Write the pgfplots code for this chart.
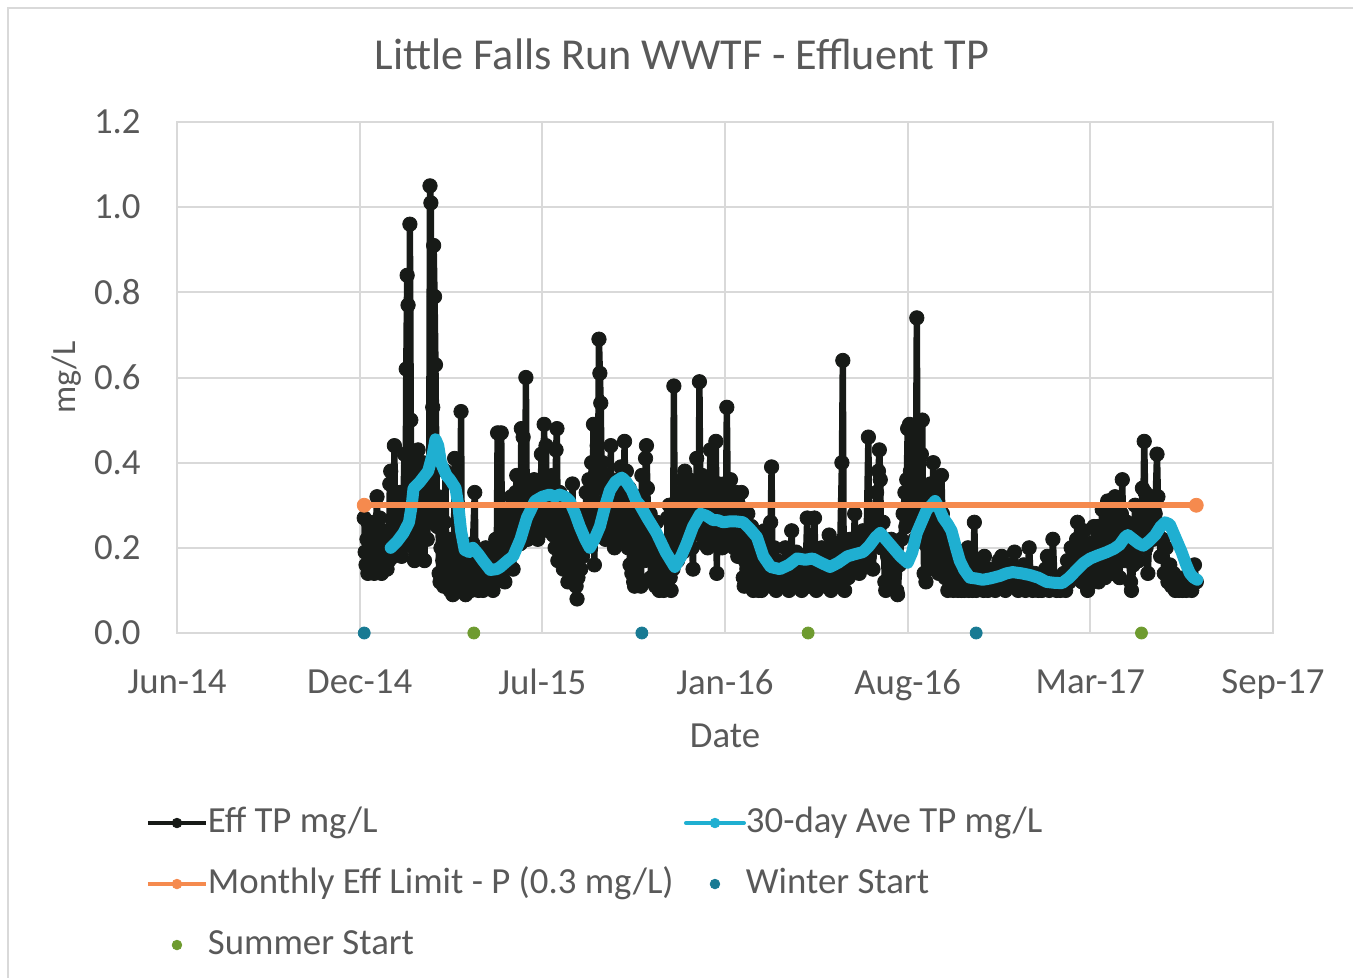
\documentclass[border=0pt]{standalone}
\usepackage{pgfplots}
\pgfplotsset{compat=1.18}
\usepackage{pgfplotstable}
\usepackage{fontspec}
\setmainfont{Carlito}
\definecolor{textgray}{HTML}{595959}
\definecolor{gridgray}{HTML}{D9D9D9}
\definecolor{effblack}{HTML}{171A17}
\definecolor{avecyan}{HTML}{1FAFD1}
\definecolor{limorange}{HTML}{F58A4E}
\definecolor{winterteal}{HTML}{187A93}
\definecolor{summergreen}{HTML}{6E9B2F}

% x = days since 10 Jun 2014
\pgfplotstableread{
x y
205 0.27
206 0.19
207 0.16
208 0.22
209 0.14
210 0.18
211 0.15
213 0.24
214 0.17
215 0.26
216 0.14
217 0.20
219 0.32
220 0.18
221 0.15
222 0.27
224 0.14
225 0.19
226 0.24
227 0.15
228 0.20
230 0.15
231 0.23
232 0.17
233 0.35
234 0.38
235 0.20
236 0.25
237 0.18
238 0.44
239 0.22
240 0.30
241 0.19
243 0.26
244 0.33
245 0.20
246 0.18
247 0.25
248 0.32
249 0.42
250 0.21
251 0.62
252 0.84
253 0.77
254 0.42
255 0.96
256 0.50
257 0.24
258 0.41
259 0.20
260 0.17
261 0.28
262 0.19
263 0.25
264 0.43
265 0.22
266 0.35
267 0.18
268 0.29
269 0.40
270 0.25
271 0.17
272 0.32
273 0.27
274 0.22
275 0.36
276 0.30
277 1.05
278 1.01
279 0.28
280 0.53
281 0.91
282 0.79
283 0.63
284 0.40
285 0.25
286 0.32
287 0.14
288 0.12
289 0.20
290 0.13
291 0.17
292 0.11
293 0.26
294 0.38
295 0.14
296 0.12
297 0.21
298 0.15
299 0.10
300 0.13
301 0.22
302 0.09
303 0.15
304 0.41
305 0.18
306 0.11
307 0.13
308 0.20
309 0.12
310 0.16
311 0.52
312 0.14
313 0.10
314 0.19
315 0.12
316 0.09
317 0.15
318 0.11
319 0.18
320 0.13
322 0.10
324 0.21
326 0.33
327 0.14
328 0.12
329 0.17
330 0.10
332 0.15
333 0.12
334 0.18
335 0.10
337 0.14
338 0.20
339 0.12
341 0.16
342 0.11
343 0.19
345 0.13
346 0.10
347 0.17
348 0.12
349 0.22
350 0.15
351 0.47
352 0.18
353 0.13
355 0.47
356 0.14
358 0.21
359 0.12
360 0.25
362 0.16
363 0.29
364 0.20
366 0.32
367 0.22
368 0.15
370 0.28
371 0.33
372 0.37
373 0.24
374 0.30
376 0.21
377 0.48
378 0.27
379 0.46
380 0.33
381 0.25
382 0.60
383 0.30
384 0.22
386 0.33
387 0.27
388 0.24
390 0.31
391 0.36
392 0.26
394 0.30
395 0.22
396 0.34
398 0.28
399 0.42
400 0.25
401 0.35
402 0.49
403 0.30
404 0.44
405 0.27
406 0.32
407 0.24
408 0.36
410 0.28
411 0.37
412 0.23
413 0.30
414 0.20
415 0.43
416 0.48
417 0.17
418 0.26
419 0.33
420 0.20
422 0.30
423 0.15
424 0.22
426 0.27
427 0.18
428 0.12
430 0.25
431 0.16
433 0.35
434 0.22
435 0.14
436 0.19
437 0.11
438 0.08
439 0.13
440 0.21
442 0.15
443 0.26
444 0.18
446 0.29
447 0.20
448 0.33
450 0.25
451 0.36
452 0.22
454 0.40
455 0.30
456 0.49
457 0.16
458 0.35
459 0.27
460 0.44
461 0.38
462 0.69
463 0.61
464 0.54
465 0.34
466 0.40
467 0.28
468 0.31
469 0.22
470 0.37
471 0.25
473 0.33
474 0.29
475 0.44
476 0.24
477 0.35
478 0.21
479 0.20
480 0.30
482 0.26
483 0.36
484 0.22
486 0.39
487 0.28
488 0.33
489 0.24
490 0.45
491 0.30
492 0.38
493 0.27
494 0.20
495 0.34
496 0.16
497 0.25
498 0.14
499 0.29
500 0.12
501 0.11
502 0.22
503 0.16
504 0.32
505 0.13
506 0.27
508 0.11
509 0.37
510 0.21
511 0.30
512 0.17
513 0.41
514 0.44
515 0.34
516 0.24
517 0.18
518 0.28
519 0.13
520 0.22
521 0.12
523 0.19
524 0.11
525 0.26
526 0.14
528 0.10
529 0.16
530 0.12
532 0.20
533 0.10
534 0.15
536 0.11
537 0.27
538 0.18
539 0.30
540 0.13
541 0.10
542 0.22
543 0.15
544 0.58
545 0.26
546 0.20
547 0.31
548 0.17
549 0.24
550 0.33
551 0.21
552 0.28
553 0.36
554 0.19
555 0.30
556 0.38
557 0.34
558 0.25
559 0.31
560 0.22
561 0.36
562 0.27
563 0.33
564 0.20
565 0.15
566 0.29
567 0.35
568 0.24
569 0.41
570 0.30
571 0.26
572 0.59
573 0.32
574 0.23
575 0.37
576 0.28
577 0.21
578 0.34
579 0.26
580 0.30
581 0.20
582 0.27
583 0.32
584 0.43
585 0.25
586 0.36
587 0.30
588 0.22
589 0.33
590 0.45
591 0.14
592 0.28
593 0.35
594 0.22
595 0.31
596 0.26
597 0.20
598 0.30
599 0.35
600 0.24
601 0.29
602 0.53
603 0.33
604 0.27
605 0.22
606 0.36
607 0.30
608 0.25
609 0.32
610 0.20
611 0.28
612 0.33
613 0.24
614 0.18
615 0.30
616 0.21
617 0.26
618 0.33
619 0.19
620 0.13
621 0.11
622 0.17
623 0.23
624 0.15
625 0.28
626 0.20
627 0.12
628 0.18
629 0.25
630 0.14
631 0.10
632 0.19
633 0.13
634 0.22
635 0.11
636 0.16
637 0.10
638 0.20
639 0.14
640 0.10
641 0.18
642 0.12
643 0.24
644 0.15
645 0.11
646 0.20
647 0.13
648 0.17
649 0.12
650 0.26
651 0.39
652 0.16
653 0.11
654 0.20
655 0.13
656 0.10
657 0.17
658 0.12
659 0.15
660 0.11
662 0.16
664 0.12
666 0.20
668 0.13
670 0.10
672 0.17
673 0.24
674 0.14
676 0.11
678 0.19
680 0.12
682 0.15
684 0.10
686 0.18
688 0.13
690 0.27
691 0.16
692 0.11
694 0.19
696 0.13
698 0.27
699 0.15
700 0.10
702 0.17
704 0.12
706 0.20
708 0.14
710 0.11
712 0.18
714 0.23
715 0.13
716 0.10
718 0.16
720 0.12
722 0.21
724 0.14
726 0.19
728 0.40
729 0.64
730 0.15
731 0.10
733 0.18
735 0.13
737 0.22
739 0.16
741 0.20
742 0.28
743 0.17
745 0.21
747 0.14
749 0.19
751 0.24
753 0.16
755 0.22
757 0.46
758 0.18
760 0.25
762 0.15
764 0.28
766 0.33
768 0.38
769 0.43
770 0.36
771 0.20
773 0.26
775 0.12
776 0.10
778 0.18
780 0.14
782 0.22
784 0.11
786 0.17
788 0.10
789 0.09
791 0.16
793 0.22
795 0.28
797 0.33
798 0.25
799 0.36
800 0.48
801 0.30
802 0.49
803 0.38
804 0.33
806 0.26
807 0.40
808 0.22
809 0.35
810 0.74
811 0.30
813 0.32
814 0.25
815 0.42
816 0.50
817 0.26
818 0.14
819 0.21
820 0.12
821 0.33
822 0.28
823 0.15
824 0.22
825 0.35
826 0.18
827 0.30
828 0.40
829 0.16
830 0.25
831 0.34
832 0.20
833 0.27
834 0.14
835 0.19
836 0.23
837 0.37
838 0.28
839 0.17
840 0.21
841 0.13
842 0.24
843 0.16
844 0.10
845 0.19
846 0.14
847 0.11
848 0.20
849 0.13
850 0.10
851 0.15
852 0.11
853 0.18
854 0.12
855 0.10
856 0.16
857 0.11
858 0.14
859 0.10
860 0.12
861 0.17
862 0.10
863 0.13
864 0.11
865 0.15
866 0.20
867 0.10
868 0.13
869 0.11
870 0.16
871 0.10
872 0.12
873 0.26
874 0.14
875 0.10
877 0.13
879 0.11
881 0.16
883 0.10
884 0.18
886 0.12
888 0.10
890 0.15
892 0.11
894 0.14
896 0.10
898 0.13
900 0.17
902 0.11
903 0.18
905 0.12
907 0.10
909 0.15
911 0.11
913 0.16
915 0.12
917 0.19
919 0.13
921 0.10
923 0.14
925 0.11
927 0.16
929 0.10
931 0.13
933 0.20
935 0.12
937 0.10
939 0.14
941 0.11
943 0.10
945 0.13
947 0.10
949 0.12
951 0.15
953 0.18
955 0.10
957 0.12
959 0.22
961 0.11
963 0.10
965 0.13
967 0.10
969 0.11
971 0.14
973 0.10
975 0.17
977 0.12
979 0.20
981 0.13
983 0.15
985 0.22
986 0.26
987 0.14
989 0.19
991 0.12
993 0.24
995 0.16
997 0.10
998 0.13
1000 0.21
1002 0.15
1004 0.25
1006 0.18
1008 0.25
1009 0.12
1011 0.20
1013 0.29
1014 0.16
1016 0.13
1017 0.22
1019 0.31
1020 0.18
1022 0.26
1024 0.14
1026 0.30
1027 0.32
1028 0.19
1030 0.23
1032 0.13
1034 0.28
1035 0.36
1036 0.22
1038 0.17
1040 0.26
1042 0.20
1044 0.12
1045 0.10
1047 0.16
1049 0.30
1051 0.24
1053 0.17
1055 0.22
1057 0.34
1058 0.30
1059 0.45
1060 0.33
1061 0.20
1063 0.14
1065 0.26
1067 0.32
1069 0.22
1071 0.28
1073 0.42
1074 0.32
1075 0.25
1077 0.18
1079 0.22
1081 0.14
1083 0.20
1085 0.12
1087 0.16
1089 0.11
1091 0.14
1093 0.10
1095 0.13
1097 0.10
1099 0.12
1101 0.10
1103 0.13
1105 0.10
1107 0.11
1109 0.13
1111 0.10
1113 0.12
1114 0.16
1116 0.12
}\effdata

\pgfplotstableread{
x y
234 0.20
241 0.215
248 0.235
254 0.26
257 0.30
259 0.34
266 0.355
275 0.38
280 0.42
283 0.455
286 0.44
289 0.40
295 0.37
299 0.36
305 0.34
308 0.30
311 0.24
315 0.195
320 0.19
324 0.20
330 0.185
335 0.17
343 0.148
350 0.15
354 0.155
362 0.17
368 0.18
376 0.22
383 0.27
392 0.31
400 0.32
408 0.325
414 0.32
419 0.325
425 0.32
430 0.31
436 0.28
441 0.25
447 0.22
452 0.20
457 0.22
463 0.25
469 0.30
474 0.335
480 0.355
487 0.365
492 0.355
498 0.335
503 0.31
507 0.30
515 0.27
525 0.235
535 0.19
545 0.155
552 0.18
558 0.21
565 0.25
573 0.28
580 0.275
587 0.265
592 0.265
598 0.26
605 0.262
612 0.262
620 0.26
627 0.245
635 0.225
642 0.18
650 0.155
660 0.15
670 0.16
679 0.175
688 0.172
696 0.175
705 0.165
715 0.155
724 0.165
734 0.18
742 0.185
751 0.19
758 0.205
765 0.225
770 0.235
776 0.22
784 0.20
792 0.18
800 0.165
805 0.19
810 0.235
816 0.265
821 0.29
826 0.30
830 0.31
834 0.295
839 0.27
844 0.255
848 0.24
853 0.20
857 0.17
862 0.148
868 0.13
875 0.128
882 0.125
890 0.128
901 0.134
908 0.14
915 0.143
925 0.14
934 0.136
943 0.13
952 0.12
960 0.118
969 0.117
977 0.13
985 0.148
993 0.165
1000 0.175
1008 0.182
1018 0.19
1026 0.198
1032 0.207
1038 0.225
1041 0.23
1047 0.22
1053 0.21
1058 0.205
1064 0.215
1071 0.23
1077 0.25
1082 0.26
1087 0.255
1090 0.24
1095 0.215
1100 0.19
1105 0.16
1109 0.14
1113 0.13
1117 0.125
}\avedata

\begin{document}
\begin{tikzpicture}
\path[use as bounding box] (-88.5bp,-172.5bp) rectangle (588bp,316.5bp);
\draw[color=gridgray, line width=0.75bp] (-84.5bp,-172.5bp) -- (-84.5bp,312.5bp) -- (588bp,312.5bp);
\begin{axis}[
  at={(0,0)}, anchor=south west,
  scale only axis, width=548bp, height=255.5bp,
  xmin=0, xmax=1200, ymin=0, ymax=1.2,
  clip=false,
  clip marker paths=true,
  xtick={0,200,400,600,800,1000,1200},
  xticklabels={Jun-14,Dec-14,Jul-15,Jan-16,Aug-16,Mar-17,Sep-17},
  ytick={0,0.2,0.4,0.6,0.8,1.0,1.2},
  yticklabels={0.0,0.2,0.4,0.6,0.8,1.0,1.2},
  major tick length=0pt,
  grid=major,
  major grid style={color=gridgray, line width=1bp},
  axis line style={color=gridgray, line width=1bp},
  tick label style={font=\fontsize{18.4bp}{22bp}\selectfont, text=textgray, inner sep=0pt},
  xticklabel style={anchor=north, yshift=-18bp},
  yticklabel style={anchor=east, xshift=-18bp},
  xlabel={Date},
  ylabel={mg/L},
  every axis x label/.style={at={(axis description cs:0.5,0)}, anchor=center, yshift=-51.5bp, font=\fontsize{18.4bp}{22bp}\selectfont, text=textgray},
  every axis y label/.style={at={(axis description cs:-0.1004,0.5)}, rotate=90, anchor=center, font=\fontsize{17bp}{20bp}\selectfont, text=textgray},
  title={Little Falls Run WWTF - Effluent TP},
  every axis title/.style={at={(axis description cs:0.4608,1.1018)}, anchor=base, font=\fontsize{22.1bp}{26bp}\selectfont, text=textgray, inner sep=0pt},
  legend columns=2,
  legend cell align=left,
  legend style={at={(axis description cs:-0.0283,-0.3386)}, anchor=north west,
    draw=none, fill=none, inner sep=0pt, outer sep=0pt,
    font=\fontsize{18.4bp}{22bp}\selectfont, text=textgray,
    column sep=0bp, row sep=13.5bp,
    nodes={inner sep=0pt, text height=13bp, text depth=4bp}},
  legend image code/.code={\draw[mark repeat=2,mark phase=2,#1,line width=2bp,mark size=2.4bp] plot coordinates {(0bp,0bp) (14.5bp,0bp) (29bp,0bp)};},
]
\addplot[color=effblack, line width=3.2bp, line join=round, mark=*, mark size=3.6bp, mark options={line width=0.4bp}] table {\effdata};
\addlegendentry{\makebox[238bp][l]{Eff TP mg/L}}
\addplot[color=avecyan, line width=6bp, line join=round, line cap=round,
  legend image code/.code={\draw[avecyan, line width=2bp, mark=*, mark size=2.4bp, mark options={line width=0.4bp}, mark repeat=2, mark phase=2] plot coordinates {(0bp,0bp) (14.5bp,0bp) (29bp,0bp)};}] table {\avedata};
\addlegendentry{30-day Ave TP mg/L}
\addplot[color=limorange, line width=3.2bp, mark=*, mark size=3.5bp, mark options={line width=0.4bp}] coordinates {(205,0.3) (1116,0.3)};
\addlegendentry{\makebox[238bp][l]{Monthly Eff Limit - P (0.3 mg/L)}}
\addplot[only marks, color=winterteal, mark=*, mark size=3bp, mark options={line width=0.4bp}] coordinates {(205,0) (509,0) (875,0)};
\addlegendentry{Winter Start}
\addplot[only marks, color=summergreen, mark=*, mark size=3bp, mark options={line width=0.4bp}] coordinates {(325,0) (691,0) (1056,0)};
\addlegendentry{\makebox[238bp][l]{Summer Start}}
\end{axis}
\end{tikzpicture}
\end{document}
